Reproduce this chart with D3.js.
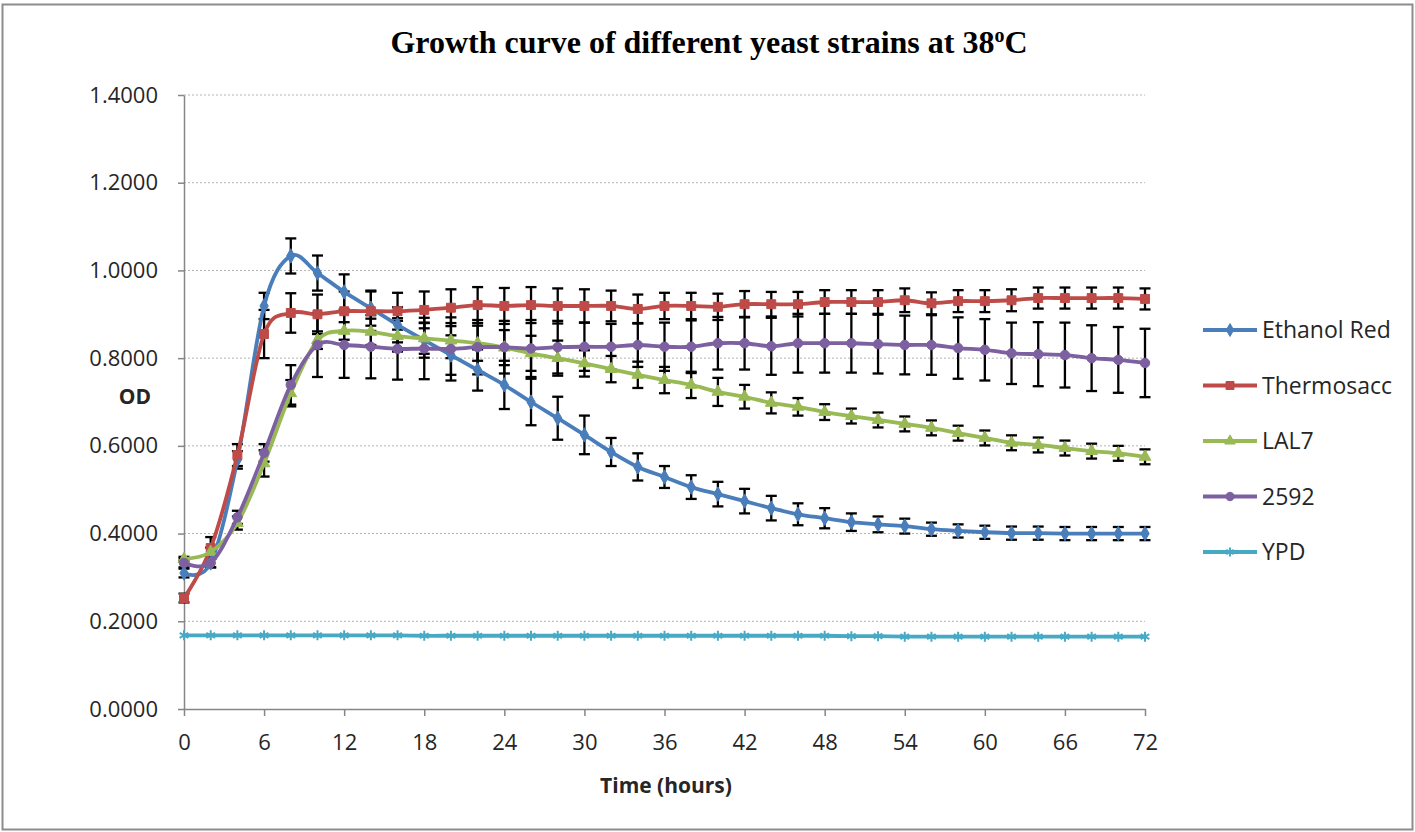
<!DOCTYPE html>
<html>
<head>
<meta charset="utf-8">
<script src="https://cdn.jsdelivr.net/npm/d3@7"></script>
<style>
  body { margin: 0; background: #fff; }
  svg text { fill: #262626; }
</style>
</head>
<body>
<script>
// time points, hours
var hours = [0,2,4,6,8,10,12,14,16,18,20,22,24,26,28,30,32,34,36,38,40,42,44,46,48,50,52,54,56,58,60,62,64,66,68,70,72];

var ethanolRed = [0.310,0.333,0.568,0.919,1.033,0.994,0.951,0.914,0.876,0.841,0.807,0.773,0.739,0.700,0.663,0.625,0.586,0.552,0.529,0.506,0.490,0.474,0.458,0.444,0.435,0.426,0.421,0.417,0.410,0.406,0.403,0.401,0.401,0.400,0.400,0.400,0.400];
var ethanolRedErr = [0.010,0.010,0.020,0.030,0.040,0.040,0.040,0.040,0.040,0.040,0.045,0.047,0.055,0.053,0.049,0.044,0.032,0.031,0.025,0.027,0.028,0.028,0.028,0.025,0.023,0.020,0.018,0.017,0.015,0.015,0.015,0.015,0.015,0.015,0.015,0.015,0.015];

var thermosacc = [0.253,0.367,0.579,0.855,0.903,0.900,0.907,0.907,0.907,0.910,0.915,0.921,0.919,0.921,0.919,0.919,0.919,0.912,0.919,0.919,0.917,0.923,0.923,0.923,0.928,0.928,0.928,0.932,0.925,0.930,0.930,0.932,0.937,0.937,0.937,0.937,0.935];
var thermosaccErr = [0.010,0.025,0.025,0.055,0.045,0.045,0.045,0.045,0.042,0.042,0.042,0.041,0.041,0.041,0.040,0.038,0.035,0.033,0.030,0.030,0.030,0.030,0.028,0.028,0.027,0.027,0.027,0.027,0.025,0.025,0.025,0.025,0.024,0.024,0.024,0.024,0.024];

var lal7 = [0.342,0.358,0.424,0.560,0.720,0.841,0.862,0.860,0.850,0.845,0.840,0.834,0.824,0.811,0.800,0.788,0.775,0.762,0.750,0.739,0.723,0.712,0.698,0.689,0.677,0.668,0.659,0.650,0.641,0.629,0.618,0.607,0.602,0.595,0.588,0.583,0.575];
var lal7Err = [0.005,0.010,0.015,0.030,0.030,0.020,0.020,0.030,0.035,0.035,0.040,0.040,0.040,0.040,0.040,0.030,0.030,0.030,0.030,0.030,0.032,0.027,0.024,0.020,0.018,0.017,0.017,0.017,0.017,0.017,0.017,0.017,0.017,0.017,0.017,0.017,0.017];

var s2592 = [0.333,0.333,0.437,0.584,0.739,0.830,0.830,0.826,0.821,0.822,0.821,0.825,0.825,0.822,0.825,0.826,0.826,0.830,0.826,0.826,0.834,0.834,0.827,0.834,0.834,0.834,0.832,0.830,0.830,0.823,0.819,0.811,0.809,0.807,0.800,0.796,0.789];
var s2592Err = [0.010,0.010,0.015,0.020,0.045,0.073,0.075,0.072,0.070,0.070,0.072,0.062,0.060,0.065,0.060,0.055,0.052,0.050,0.055,0.060,0.060,0.060,0.065,0.067,0.067,0.067,0.067,0.067,0.068,0.070,0.070,0.070,0.073,0.074,0.075,0.075,0.078];

var ypd = [0.168,0.168,0.168,0.168,0.168,0.168,0.168,0.168,0.168,0.167,0.167,0.167,0.167,0.167,0.167,0.167,0.167,0.167,0.167,0.167,0.167,0.167,0.167,0.167,0.167,0.166,0.166,0.165,0.165,0.165,0.165,0.165,0.165,0.165,0.165,0.165,0.165];
var ypdErr = hours.map(function(){ return 0.002; });

var seriesNames = ["Ethanol Red", "Thermosacc", "LAL7", "2592", "YPD"];
var xTicks = [0,6,12,18,24,30,36,42,48,54,60,66,72];
var yTicks = [0,0.2,0.4,0.6,0.8,1.0,1.2,1.4];

var series = [
  {name: seriesNames[0], values: ethanolRed, err: ethanolRedErr, color: "#4a7ebb", sym: d3.symbolDiamond, size: 60},
  {name: seriesNames[1], values: thermosacc, err: thermosaccErr, color: "#be4b48", sym: d3.symbolSquare, size: 80},
  {name: seriesNames[2], values: lal7, err: lal7Err, color: "#98b954", sym: d3.symbolTriangle, size: 60},
  {name: seriesNames[3], values: s2592, err: s2592Err, color: "#7d60a0", sym: d3.symbolCircle, size: 70},
  {name: seriesNames[4], values: ypd, err: ypdErr, color: "#46aac5", sym: d3.symbolAsterisk, size: 70, stroke: true}
];

const width = 1415, height = 832;
var margin = {left: 184, right: 270, top: 95, bottom: 123};

var svg = d3.select("body").append("svg")
    .attr("width", width)
    .attr("height", height);

// outer frame
svg.append("rect")
    .attr("x", 2.5).attr("y", 4.5)
    .attr("width", width - 5).attr("height", height - 7)
    .attr("fill", "none").attr("stroke", "#8c8c8c").attr("stroke-width", 2);

var x = d3.scaleLinear().domain([0, 72]).range([margin.left, width - margin.right]);
var y = d3.scaleLinear().domain([0, 1.4]).range([height - margin.bottom, margin.top]);

// grid
svg.append("g").selectAll("line")
    .data(yTicks.slice(1))
    .enter().append("line")
    .attr("x1", x(0)).attr("x2", x(72))
    .attr("y1", function(d){ return y(d); }).attr("y2", function(d){ return y(d); })
    .attr("stroke", "#b3b3b3").attr("stroke-dasharray", "2,2").attr("stroke-width", 1);

// axes
var yAxis = svg.append("g")
    .attr("transform", "translate(" + x(0) + ",0)")
    .call(d3.axisLeft(y).tickValues(yTicks).tickFormat(d3.format(".4f")).tickSizeInner(6).tickSizeOuter(0).tickPadding(20));
var xAxis = svg.append("g")
    .attr("transform", "translate(0," + y(0) + ")")
    .call(d3.axisBottom(x).tickValues(xTicks).tickFormat(d3.format("d")).tickSizeInner(7).tickSizeOuter(0).tickPadding(18));

[yAxis, xAxis].forEach(function(a){
  a.select(".domain").attr("stroke", "#868686").attr("stroke-width", 1.5);
  a.selectAll(".tick line").attr("stroke", "#868686").attr("stroke-width", 1.5);
  a.selectAll(".tick text").attr("font-family", "Open Sans").attr("font-size", 22).attr("fill", "#262626");
});

// error bars
var bars = svg.append("g");
series.forEach(function(s){
  if (s.stroke) return;
  var g = bars.append("g");
  var pts = hours.map(function(h, i){ return {h: h, v: s.values[i], e: s.err[i]}; });
  g.selectAll("line.v").data(pts).enter().append("line")
    .attr("x1", function(d){ return x(d.h); }).attr("x2", function(d){ return x(d.h); })
    .attr("y1", function(d){ return y(d.v + d.e); }).attr("y2", function(d){ return y(d.v - d.e); })
    .attr("stroke", "#000").attr("stroke-width", 2.3);
  [1, -1].forEach(function(sign){
    g.selectAll("line.c" + sign).data(pts).enter().append("line")
      .attr("x1", function(d){ return x(d.h) - 5.5; }).attr("x2", function(d){ return x(d.h) + 5.5; })
      .attr("y1", function(d){ return y(d.v + sign * d.e); }).attr("y2", function(d){ return y(d.v + sign * d.e); })
      .attr("stroke", "#000").attr("stroke-width", 2.3);
  });
});

var line = d3.line()
    .x(function(d){ return x(d[0]); })
    .y(function(d){ return y(d[1]); })
    .curve(d3.curveCardinal.tension(0));

series.forEach(function(s){
  var pts = hours.map(function(h, i){ return [h, s.values[i]]; });
  svg.append("path")
    .datum(pts)
    .attr("d", line)
    .attr("fill", "none")
    .attr("stroke", s.color)
    .attr("stroke-width", 3.8);
  svg.append("g").selectAll("path")
    .data(pts).enter().append("path")
    .attr("transform", function(d){ return "translate(" + x(d[0]) + "," + y(d[1]) + ")"; })
    .attr("d", d3.symbol().type(s.sym).size(s.size))
    .attr("fill", s.stroke ? "none" : s.color)
    .attr("stroke", s.color)
    .attr("stroke-width", s.stroke ? 2 : 1);
});

// legend
var legend = svg.append("g");
series.forEach(function(s, i){
  var ly = 330 + i * 55.5;
  legend.append("line")
    .attr("x1", 1203).attr("x2", 1257).attr("y1", ly).attr("y2", ly)
    .attr("stroke", s.color).attr("stroke-width", 3.8);
  legend.append("path")
    .attr("transform", "translate(1230," + ly + ")")
    .attr("d", d3.symbol().type(s.sym).size(s.size * 0.8))
    .attr("fill", s.stroke ? "none" : s.color)
    .attr("stroke", s.color).attr("stroke-width", s.stroke ? 2 : 1);
  legend.append("text")
    .attr("x", 1262).attr("y", ly + 8)
    .attr("font-family", "Open Sans").attr("font-size", 23)
    .text(s.name);
});

// title
var title = svg.append("text")
    .attr("x", 709).attr("y", 53)
    .attr("text-anchor", "middle")
    .attr("font-family", "Liberation Serif").attr("font-weight", "bold").attr("font-size", 32)
    .style("fill", "#000");
title.append("tspan").text("Growth curve of different yeast strains at 38");
title.append("tspan").attr("font-size", 20).attr("dy", -11).text("o");
title.append("tspan").attr("dy", 11).text("C");

// axis titles
svg.append("text")
    .attr("x", 135).attr("y", 404)
    .attr("text-anchor", "middle")
    .attr("font-family", "Open Sans").attr("font-weight", "bold").attr("font-size", 21)
    .text("OD");
svg.append("text")
    .attr("x", 666).attr("y", 793)
    .attr("text-anchor", "middle")
    .attr("font-family", "Open Sans").attr("font-weight", "bold").attr("font-size", 21)
    .text("Time (hours)");
</script>
</body>
</html>
